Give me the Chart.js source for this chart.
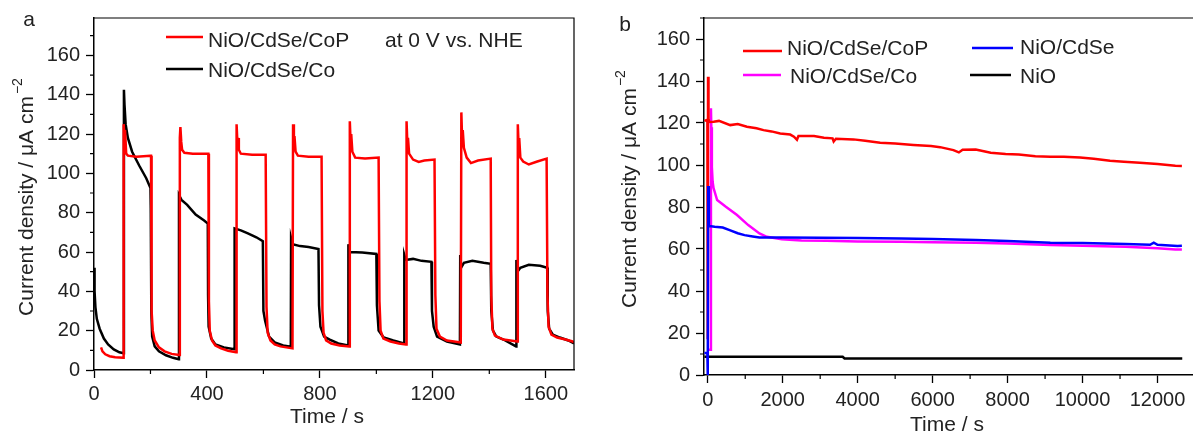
<!DOCTYPE html>
<html>
<head>
<meta charset="utf-8">
<script src="https://cdn.jsdelivr.net/npm/chart.js@4.4.1/dist/chart.umd.min.js"></script>
<style>
  html, body { margin: 0; padding: 0; background: #fff; overflow: hidden; }
  .panel { position: absolute; top: 0; }
  #wa { left: 0; }
  #wb { left: 600px; }
</style>
</head>
<body>
<div class="panel" id="wa"><canvas id="chartA" width="600" height="434"></canvas></div>
<div class="panel" id="wb"><canvas id="chartB" width="600" height="434"></canvas></div>
<script>
// ---- panel a: chopped light at 0 V vs. NHE, [time s, current µA cm-2]
const aCoP = [
  [25,11.5],[30,9.5],[40,8],[55,7],[75,6.5],[104,6.2],
  [105,125],[108,118],[110,122],[114,110],[120,109],[150,108.5],[200,109],
  [202,109],[204,30],[208,20],[215,15],[230,11.5],[250,9.5],[275,8.2],[302,7.6],
  [304,118],[306,123.5],[309,116],[312,112],[320,110.5],[350,110],[405,110],
  [407,35],[410,20],[418,15],[430,12.5],[450,11],[475,9.8],[503,9],
  [505,125],[508,115],[510,118],[513,112],[520,110],[560,109.5],[608,109.5],
  [611,32],[615,19],[625,15],[640,13],[660,12],[703,11],
  [705,125],[708,114],[710,119],[714,111],[722,109],[760,108.5],[806,108.5],
  [809,30],[813,19],[822,15],[840,13.5],[870,12.5],[904,12],
  [906,126.5],[909,115],[911,120],[915,111],[925,108],[960,107.5],[1008,108],
  [1011,35],[1015,20],[1025,16],[1050,14.5],[1080,13.5],[1105,13],
  [1107,126.5],[1110,114],[1112,118],[1116,110],[1130,107],[1150,105.8],[1170,106.5],[1206,107],
  [1209,38],[1213,21],[1225,17],[1250,15],[1275,14.5],[1299,14],
  [1301,131],[1304,116],[1306,122],[1310,113],[1320,108],[1335,105.2],[1360,106.5],[1405,107.5],
  [1407,38],[1411,21],[1420,17.5],[1450,15.5],[1475,15],[1499,14.5],
  [1501,125],[1504,113],[1506,118],[1510,108],[1520,106],[1540,104.5],[1570,106],[1603,107.5],
  [1606,38],[1610,22],[1620,18],[1640,16.5],[1670,15.5],[1695,14.5],[1700,14]
];
const aCo = [
  [0,52],[2,40],[5,32],[10,26],[20,21],[35,16],[50,13],[70,10.5],[90,9],[105,8.5],
  [106,142.5],[108,135],[112,125],[120,118],[135,111],[160,104],[185,97.5],[200,92.5],
  [201,82],[203,30],[206,17],[215,12],[230,9.5],[255,7.5],[280,6.2],[300,5.5],
  [301,89],[310,86.5],[330,84],[360,79],[390,76],[403,74.5],
  [404,38],[406,22],[415,16],[430,13],[460,11.5],[497,10.5],
  [498,72],[520,71],[545,69.5],[575,67.5],[598,65.5],
  [600,30],[606,25],[620,17],[640,14],[670,12.5],[697,11.8],
  [698,67],[703,64],[730,63],[760,62.5],[795,61.5],
  [797,33],[802,22],[815,17],[835,15.5],[865,13.5],[900,12.5],
  [901,64],[906,60],[950,59.8],[1000,59],
  [1002,33],[1008,20],[1026,16.5],[1060,15],[1098,13.5],
  [1099,58.5],[1104,56],[1130,56.5],[1160,55.5],[1195,55],
  [1197,30],[1203,22],[1215,17],[1250,14.5],[1296,13],
  [1297,58.5],[1300,52],[1310,54.5],[1340,55.5],[1380,54.5],[1405,54],
  [1407,30],[1413,20],[1425,17],[1450,15.5],[1495,12],
  [1496,56],[1500,50],[1510,52],[1540,53.5],[1580,53],[1605,52],
  [1607,30],[1612,21],[1625,18],[1650,16.5],[1680,15],[1700,13.5]
];
const timeTicksA = [0, 400, 800, 1200, 1600];
const timeMinorA = [200, 600, 1000, 1400];

// ---- panel b: long-term stability
const bCoP = [
  [-90,121],[-10,121.5],[0,17],[8,142],[20,122],[40,120.5],[155,120.6],[300,121],[600,119],
  [800,119.5],[1045,118.2],[1300,117.5],[1488,116.6],[1700,116],[1933,115],[2200,114.5],
  [2300,113.5],[2380,112],[2420,113.8],[2835,113.8],[3100,113],[3330,112.7],[3360,111.2],
  [3420,112.5],[3888,112.2],[4200,111.5],[4600,110.6],[5000,110.2],[5488,109.5],[5957,109],
  [6200,108.5],[6555,107.1],[6700,106],[6800,107.3],[7150,107.4],[7550,105.8],[7947,105.2],
  [8300,105],[8741,104.2],[9141,103.9],[9500,103.9],[9933,103.6],[10300,103],[10733,102],
  [11100,101.6],[11528,101.1],[12000,100.5],[12475,99.6],[12650,99.5]
];
const bCdSe = [
  [-90,10.5],[-10,10.5],[0,0],[12,90],[30,71],[184,70.6],[400,70.2],[584,69],[800,67.5],
  [981,66.6],[1200,66],[1379,65.5],[2000,65.5],[3000,65.3],[4000,65.2],[5160,65],[6000,64.8],
  [7150,64.3],[8000,63.8],[9141,63],[10000,62.8],[11147,62.4],[11800,62],[11900,63],
  [12000,62],[12533,61.4],[12650,61.5]
];
const bCo = [
  [0,12],[80,12],[85,127],[95,118],[110,99],[130,92],[155,89],[250,83.3],[483,80.1],
  [781,76.2],[1080,71.4],[1379,67.4],[1578,65.8],[1976,64.6],[2500,64],[3171,63.9],
  [4000,63.6],[5160,63.4],[6000,63.2],[7150,63],[8000,62.6],[9141,61.9],[10000,61.6],
  [11147,61.1],[12000,60.4],[12475,59.8],[12650,59.8]
];
const bNiO = [[-90,8.7],[3600,8.7],[3650,7.9],[12660,7.9]];
const timeTicksB = [0, 2000, 4000, 6000, 8000, 10000, 12000];
const timeMinorB = [1000, 3000, 5000, 7000, 9000, 11000];

const currentTicks = [0, 20, 40, 60, 80, 100, 120, 140, 160];
const currentMinor = [10, 30, 50, 70, 90, 110, 130, 150, 170];

const FONT = "'Liberation Sans', Arial, sans-serif";
const TXT = '#222';

function pts(arr) {
  return arr.map(p => ({ x: p[0], y: p[1] }));
}

// frame, minor ticks, legend and titles
const decor = {
  id: 'decor',
  afterDraw(chart, args, o) {
    const { ctx, chartArea: ca, scales: { x, y } } = chart;
    ctx.save();
    ctx.strokeStyle = '#000';
    ctx.lineWidth = 1.2;
    ctx.beginPath();
    ctx.moveTo(ca.left, ca.top);
    ctx.lineTo(ca.right, ca.top);
    ctx.lineTo(ca.right, ca.bottom);
    ctx.stroke();

    // minor ticks
    ctx.beginPath();
    o.minorX.forEach(v => {
      const px = x.getPixelForValue(v);
      ctx.moveTo(px, ca.bottom); ctx.lineTo(px, ca.bottom + 4);
    });
    o.minorY.forEach(v => {
      if (v > y.max) return;
      const py = y.getPixelForValue(v);
      ctx.moveTo(ca.left, py); ctx.lineTo(ca.left - 4, py);
    });
    ctx.stroke();

    // legend
    ctx.font = '21px ' + FONT;
    ctx.textBaseline = 'middle';
    ctx.textAlign = 'left';
    o.legend.forEach(it => {
      const ds = chart.data.datasets[it.ds];
      ctx.strokeStyle = ds.borderColor;
      ctx.lineWidth = 2.5;
      ctx.beginPath();
      ctx.moveTo(it.x1, it.ly); ctx.lineTo(it.x2, it.ly);
      ctx.stroke();
      ctx.fillStyle = TXT;
      ctx.fillText(ds.label, it.tx, it.ty);
    });
    o.notes.forEach(n => {
      ctx.textAlign = n.align || 'left';
      ctx.fillStyle = TXT;
      ctx.fillText(n.text, n.x, n.y);
    });

    // x title
    ctx.textAlign = 'center';
    ctx.fillText('Time / s', o.xTitle.x, o.xTitle.y);

    // y title with superscript
    const main = 'Current density / \u03bcA cm';
    const sup = '\u22122';
    ctx.font = '21px ' + FONT;
    const w1 = ctx.measureText(main).width;
    ctx.font = '14px ' + FONT;
    const w2 = ctx.measureText(sup).width;
    ctx.translate(o.yTitle.x, o.yTitle.y);
    ctx.rotate(-Math.PI / 2);
    ctx.textAlign = 'left';
    const start = -(w1 + w2 + 2) / 2;
    ctx.font = '21px ' + FONT;
    ctx.fillText(main, start, 0);
    ctx.font = '14px ' + FONT;
    ctx.fillText(sup, start + w1 + 2, -9);
    ctx.restore();
  }
};

function makeChart(id, datasets, cfg) {
  const tickFont = { family: FONT, size: 20 };
  return new Chart(document.getElementById(id), {
    type: 'line',
    data: { datasets: datasets },
    options: {
      responsive: false,
      animation: false,
      events: [],
      layout: { padding: { left: 0, top: cfg.padTop, right: cfg.padRight, bottom: 0 } },
      elements: { point: { radius: 0 }, line: { tension: 0, borderWidth: 2.5 } },
      scales: {
        x: {
          type: 'linear',
          min: cfg.xMin, max: cfg.xMax,
          afterBuildTicks: s => { s.ticks = cfg.xTicks.map(v => ({ value: v })); },
          afterFit: s => { s.height = cfg.xHeight; },
          grid: { drawOnChartArea: false, drawTicks: true, tickLength: 8, tickColor: '#000', tickWidth: 1.3 },
          border: { display: true, color: '#000', width: 1.5 },
          ticks: {
            font: tickFont, color: TXT, padding: cfg.xPad, maxRotation: 0, autoSkip: false,
            callback: v => String(v)
          }
        },
        y: {
          type: 'linear',
          min: 0, max: cfg.yMax,
          afterBuildTicks: s => { s.ticks = currentTicks.map(v => ({ value: v })); },
          afterFit: s => { s.width = cfg.yWidth; },
          grid: { drawOnChartArea: false, drawTicks: true, tickLength: 8, tickColor: '#000', tickWidth: 1.3 },
          border: { display: true, color: '#000', width: 1.5 },
          ticks: { font: tickFont, color: TXT, padding: 6, autoSkip: false, callback: v => String(v) }
        }
      },
      plugins: {
        legend: { display: false },
        tooltip: { enabled: false },
        decor: cfg.decor
      }
    },
    plugins: [decor]
  });
}

makeChart('chartA', [
  { label: 'NiO/CdSe/CoP', data: pts(aCoP), borderColor: '#ff0000' },
  { label: 'NiO/CdSe/Co', data: pts(aCo), borderColor: '#000000' }
], {
  xMin: 0, xMax: 1700, yMax: 179, xTicks: timeTicksA,
  padTop: 15, padRight: 26, xHeight: 64, yWidth: 94, xPad: 4,
  decor: {
    minorX: timeMinorA, minorY: currentMinor,
    legend: [
      { ds: 0, x1: 166, x2: 203, ly: 37, tx: 208, ty: 41 },
      { ds: 1, x1: 166, x2: 203, ly: 69, tx: 208, ty: 71 }
    ],
    notes: [
      { text: 'at 0 V vs. NHE', x: 385, y: 41 },
      { text: 'a', x: 29, y: 20, align: 'center' }
    ],
    xTitle: { x: 327, y: 417 },
    yTitle: { x: 27, y: 197 }
  }
});

makeChart('chartB', [
  { label: 'NiO/CdSe', data: pts(bCdSe), borderColor: '#0000ff', order: 0 },
  { label: 'NiO/CdSe/CoP', data: pts(bCoP), borderColor: '#ff0000', order: 1 },
  { label: 'NiO/CdSe/Co', data: pts(bCo), borderColor: '#ff00ff', order: 2 },
  { label: 'NiO', data: pts(bNiO), borderColor: '#000000', order: 3 }
], {
  xMin: -100, xMax: 13000, yMax: 170, xTicks: timeTicksB,
  padTop: 17, padRight: 5, xHeight: 59, yWidth: 104, xPad: 5,
  decor: {
    minorX: timeMinorB, minorY: currentMinor,
    legend: [
      { ds: 1, x1: 143, x2: 182, ly: 51, tx: 187, ty: 49 },
      { ds: 2, x1: 143, x2: 181, ly: 75, tx: 190, ty: 77 },
      { ds: 0, x1: 372, x2: 413, ly: 48, tx: 420, ty: 48 },
      { ds: 3, x1: 370, x2: 411, ly: 75, tx: 420, ty: 77 }
    ],
    notes: [
      { text: 'b', x: 25, y: 25, align: 'center' }
    ],
    xTitle: { x: 347, y: 425 },
    yTitle: { x: 30, y: 189 }
  }
});
</script>
</body>
</html>
